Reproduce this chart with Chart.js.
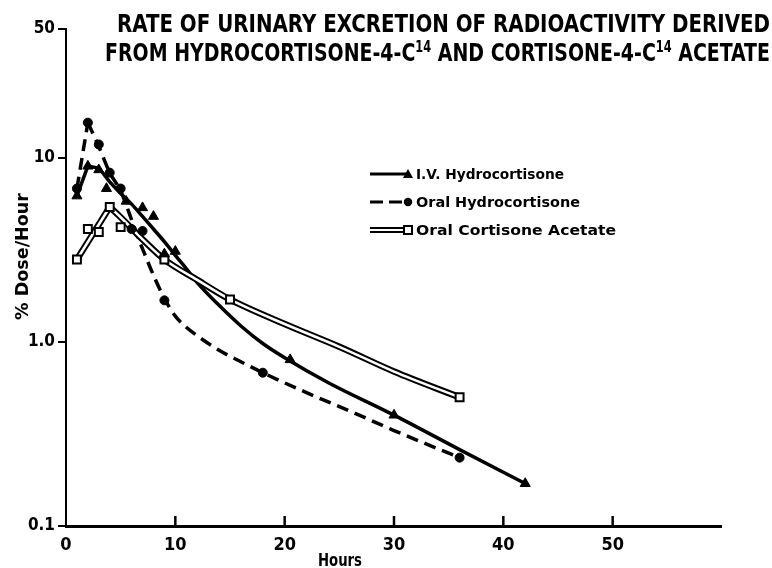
<!DOCTYPE html>
<html><head><meta charset="utf-8">
<script src="https://cdn.jsdelivr.net/npm/chart.js@4.4.1/dist/chart.umd.min.js"></script>
<style>html,body{margin:0;padding:0;background:#fff;}#wrap{width:772px;height:568px;}</style>
</head><body><div id="wrap"><canvas id="c" width="772" height="568"></canvas></div>
<script>
const NARROW = '"Liberation Sans Narrow", "DejaVu Sans Condensed", "Liberation Sans", sans-serif';
const WIDE = '"DejaVu Sans", "Liberation Sans", sans-serif';

// ---- data (hours, % dose / hour) ----
const ivHours  = [1, 2, 3, 3.7, 5.5, 7, 8, 9, 10, 20.5, 30, 42];
const ivValues = [6.2, 9.0, 8.6, 6.8, 5.8, 5.35, 4.8, 3.0, 3.1, 0.8, 0.4, 0.17];

const ohcHours  = [1, 2, 3, 4, 5, 6, 7, 9, 18, 36];
const ohcValues = [6.8, 15.5, 11.8, 8.3, 6.8, 4.1, 4.0, 1.68, 0.68, 0.235];

const ocaHours  = [1, 2, 3, 4, 5, 9, 15, 36];
const ocaValues = [2.8, 4.1, 3.95, 5.4, 4.2, 2.8, 1.7, 0.5];

// hand-drawn fitted curves
const ivCurveHours  = [1, 2, 3, 4, 5, 6, 7, 8, 9, 10, 11, 12, 14, 16, 18, 20, 24, 30, 36, 42];
const ivCurveValues = [6.2, 9.0, 8.7, 7.4, 6.4, 5.6, 4.8, 4.1, 3.5, 2.95, 2.5, 2.1, 1.58, 1.22, 0.98, 0.82, 0.6, 0.4, 0.26, 0.17];

const ohcCurveHours  = [1, 2, 3, 4, 5, 6, 6.5, 7, 8, 9, 10, 11, 12, 14, 16, 18, 22, 26, 30, 36];
const ohcCurveValues = [6.8, 15.5, 11.5, 8.3, 6.6, 4.6, 3.8, 3.2, 2.3, 1.72, 1.38, 1.2, 1.08, 0.9, 0.78, 0.68, 0.53, 0.42, 0.33, 0.235];

const ocaCurveHours  = [1, 4, 5, 7, 9, 12, 15, 20, 25, 30, 36];
const ocaCurveValues = [2.8, 5.4, 4.75, 3.6, 2.8, 2.17, 1.7, 1.25, 0.94, 0.69, 0.5];

const xTickValues = [0, 10, 20, 30, 40, 50];
const yTickValues = [0.1, 1, 10, 50];
const yTickLabels = ['0.1', '1.0', '10', '50'];

const seriesNames = ['I.V. Hydrocortisone', 'Oral Hydrocortisone', 'Oral Cortisone Acetate'];
const titleLine1 = 'RATE OF URINARY EXCRETION OF RADIOACTIVITY DERIVED';
const titleLine2 = ['FROM HYDROCORTISONE-4-C', '14', ' AND CORTISONE-4-C', '14', ' ACETATE'];
const xTitle = 'Hours';
const yTitle = '% Dose/Hour';

// ---- helpers ----
const pts = (xs, ys) => xs.map((x, i) => ({x: x, y: ys[i]}));
const peakIdx = ys => ys.indexOf(Math.max(...ys));
function rise(xs, ys) { const p = peakIdx(ys); return pts(xs.slice(0, p + 1), ys.slice(0, p + 1)); }
function decay(xs, ys) { const p = peakIdx(ys); return pts(xs.slice(p), ys.slice(p)); }

function lineDs(data, extra) {
  return Object.assign({data: data, showLine: true, pointRadius: 0, pointHoverRadius: 0,
    borderColor: '#000', backgroundColor: '#000', borderWidth: 3.5, fill: false,
    borderCapStyle: 'butt', borderJoinStyle: 'round'}, extra);
}

function fitText(ctx, segs, x, y, targetW) {
  let w = 0;
  segs.forEach(s => { ctx.font = s.font; s.w = ctx.measureText(s.t).width; w += s.w; });
  const k = targetW / w;
  ctx.save();
  ctx.translate(x, y);
  ctx.scale(k, 1);
  ctx.textAlign = 'left'; ctx.textBaseline = 'alphabetic'; ctx.fillStyle = '#000';
  let cx = 0;
  segs.forEach(s => { ctx.font = s.font; ctx.fillText(s.t, cx, s.dy || 0); cx += s.w; });
  ctx.restore();
}

const decor = {
  id: 'decor',
  beforeDatasetsDraw(chart) {
    const ctx = chart.ctx, xs = chart.scales.x, area = chart.chartArea;
    ctx.save();
    ctx.strokeStyle = '#000'; ctx.lineWidth = 2.5;
    xs.ticks.forEach(t => {
      if (t.value === 0) return;
      const px = xs.getPixelForValue(t.value);
      ctx.beginPath(); ctx.moveTo(px, area.bottom); ctx.lineTo(px, area.bottom - 10); ctx.stroke();
    });
    ctx.restore();
  },
  afterDraw(chart) {
    const ctx = chart.ctx;
    // title
    const tf = 'bold 25px ' + NARROW, sf = 'bold 15px ' + NARROW;
    fitText(ctx, [{t: titleLine1, font: tf}], 117, 32, 653);
    fitText(ctx, titleLine2.map((t, i) => ({t: t, font: i % 2 ? sf : tf, dy: i % 2 ? -9 : 0})), 105, 61, 665);
    // axis titles
    fitText(ctx, [{t: xTitle, font: 'bold 17px ' + NARROW}], 318, 566, 44);
    ctx.save();
    ctx.translate(28, 320); ctx.rotate(-Math.PI / 2);
    fitText(ctx, [{t: yTitle, font: 'bold 17px ' + WIDE}], 0, 0, 127);
    ctx.restore();
    // legend
    const rows = [174, 202, 230];
    ctx.save();
    ctx.strokeStyle = '#000'; ctx.fillStyle = '#000';
    ctx.lineWidth = 3; ctx.beginPath(); ctx.moveTo(370, rows[0]); ctx.lineTo(406, rows[0]); ctx.stroke();
    ctx.beginPath(); ctx.moveTo(408, rows[0] - 5); ctx.lineTo(413, rows[0] + 4); ctx.lineTo(403, rows[0] + 4); ctx.closePath(); ctx.fill();
    ctx.setLineDash([13, 6]); ctx.beginPath(); ctx.moveTo(370, rows[1]); ctx.lineTo(406, rows[1]); ctx.stroke(); ctx.setLineDash([]);
    ctx.beginPath(); ctx.arc(408, rows[1], 4.2, 0, Math.PI * 2); ctx.fill();
    ctx.lineWidth = 6; ctx.beginPath(); ctx.moveTo(370, rows[2]); ctx.lineTo(404, rows[2]); ctx.stroke();
    ctx.strokeStyle = '#fff'; ctx.lineWidth = 2; ctx.beginPath(); ctx.moveTo(369, rows[2]); ctx.lineTo(404, rows[2]); ctx.stroke();
    ctx.strokeStyle = '#000'; ctx.lineWidth = 2; ctx.fillStyle = '#fff';
    ctx.fillRect(404, rows[2] - 4, 8, 8); ctx.strokeRect(404, rows[2] - 4, 8, 8);
    ctx.restore();
    const lw = [148, 164, 200];
    seriesNames.forEach((n, i) => fitText(ctx, [{t: n, font: 'bold 14px ' + WIDE}], 416, rows[i] + 5, lw[i]));
  }
};

const markerBase = {showLine: false, borderColor: '#000', borderWidth: 1, order: 0, pointHoverRadius: 6};

new Chart(document.getElementById('c'), {
  type: 'scatter',
  data: {
    datasets: [
      Object.assign({label: seriesNames[0], data: pts(ivHours, ivValues), pointStyle: 'triangle', pointRadius: 5.8, backgroundColor: '#000'}, markerBase),
      Object.assign({label: seriesNames[1], data: pts(ohcHours, ohcValues), pointStyle: 'circle', pointRadius: 4.5, backgroundColor: '#000'}, markerBase),
      Object.assign({}, markerBase, {label: seriesNames[2], data: pts(ocaHours, ocaValues), pointStyle: 'rect', pointRadius: 5.6, backgroundColor: '#fff', borderWidth: 2}),
      lineDs(rise(ivCurveHours, ivCurveValues), {order: 3, tension: 0}),
      lineDs(decay(ivCurveHours, ivCurveValues), {order: 3, cubicInterpolationMode: 'monotone'}),
      lineDs(rise(ohcCurveHours, ohcCurveValues), {order: 3, tension: 0, borderDash: [12, 7]}),
      lineDs(decay(ohcCurveHours, ohcCurveValues), {order: 3, cubicInterpolationMode: 'monotone', borderDash: [12, 7]}),
      lineDs(rise(ocaCurveHours, ocaCurveValues), {order: 2, tension: 0, borderWidth: 6.5}),
      lineDs(decay(ocaCurveHours, ocaCurveValues), {order: 2, cubicInterpolationMode: 'monotone', borderWidth: 6.5}),
      lineDs(rise(ocaCurveHours, ocaCurveValues), {order: 1, tension: 0, borderWidth: 2.5, borderColor: '#fff'}),
      lineDs(decay(ocaCurveHours, ocaCurveValues), {order: 1, cubicInterpolationMode: 'monotone', borderWidth: 2.5, borderColor: '#fff'})
    ]
  },
  options: {
    responsive: false, animation: false, devicePixelRatio: 1,
    layout: {padding: {top: 29, right: 50, left: 0, bottom: 0}},
    plugins: {legend: {display: false}, tooltip: {enabled: false}, title: {display: false}},
    scales: {
      x: {
        type: 'linear', min: 0, max: 60,
        afterBuildTicks: s => { s.ticks = xTickValues.map(v => ({value: v})); },
        afterFit: s => { s.height = 42; },
        grid: {display: true, drawOnChartArea: false, drawTicks: false, lineWidth: 0},
        border: {display: true, color: '#000', width: 3},
        ticks: {padding: 9, color: '#000', font: {family: NARROW, size: 18, weight: 'bold'}, maxRotation: 0, autoSkip: false}
      },
      y: {
        type: 'logarithmic', min: 0.1, max: 50,
        afterBuildTicks: s => { s.ticks = yTickValues.map(v => ({value: v})); },
        afterFit: s => { s.width = 66; },
        grid: {drawOnChartArea: false, drawTicks: true, tickLength: 8, lineWidth: 2, color: '#000'},
        border: {display: true, color: '#000', width: 2},
        ticks: {padding: 3, color: '#000', font: {family: NARROW, size: 17, weight: 'bold'}, autoSkip: false,
          callback: v => { const i = yTickValues.indexOf(v); return i >= 0 ? yTickLabels[i] : ''; }}
      }
    }
  },
  plugins: [decor]
});
</script></body></html>
